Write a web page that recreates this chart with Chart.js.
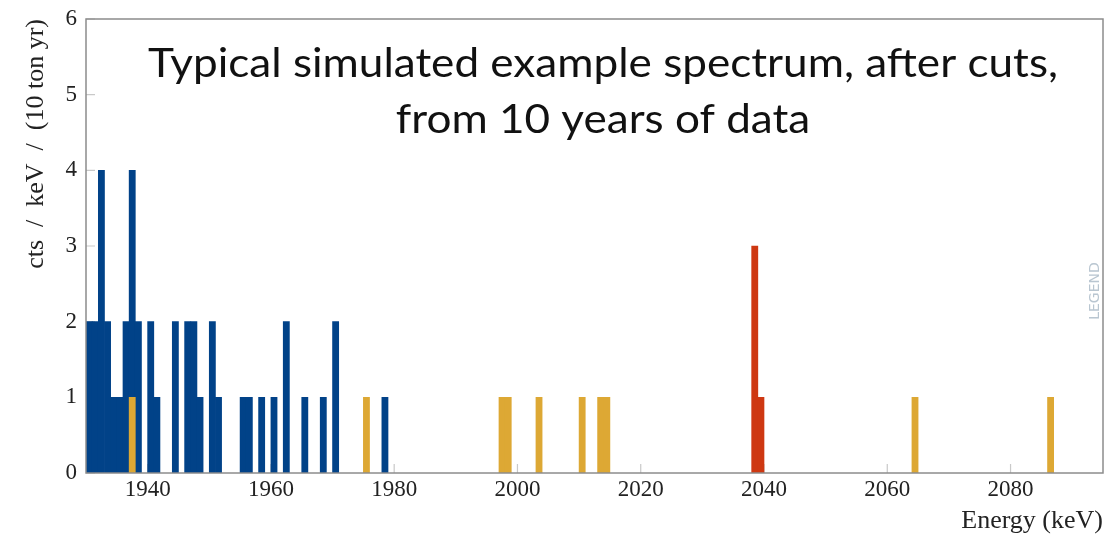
<!DOCTYPE html>
<html>
<head>
<meta charset="utf-8">
<script src="https://cdn.jsdelivr.net/npm/chart.js@4.4.1/dist/chart.umd.min.js"></script>
<style>
  html, body { margin: 0; background: #fff; }
  #wrap { width: 1120px; height: 538px; }
</style>
</head>
<body>
<div id="wrap"><canvas id="spectrum"></canvas></div>
<script>
// 1 keV bins, value = lower edge of the bin
const blueBins = [1930, 1931, 1932, 1933, 1934, 1935, 1936, 1937, 1938, 1940, 1941, 1944, 1946,
  1947, 1948, 1950, 1951, 1955, 1956, 1958, 1960, 1962, 1965, 1968, 1970, 1978];
const blueCounts = [2, 2, 4, 2, 1, 1, 2, 4, 2, 2, 1, 2, 2,
  2, 1, 2, 1, 1, 1, 1, 1, 2, 1, 1, 2, 1];
const yellowBins = [1937, 1975, 1997, 1998, 2003, 2010, 2013, 2014, 2064, 2086];
const yellowCounts = [1, 1, 1, 1, 1, 1, 1, 1, 1, 1];
const redBins = [2038, 2039];
const redCounts = [3, 1];

const xTickValues = [1940, 1960, 1980, 2000, 2020, 2040, 2060, 2080];
const yTickValues = [0, 1, 2, 3, 4, 5, 6];
const titleLines = ['Typical simulated example spectrum, after cuts,', 'from 10 years of data'];

const BLUE = '#014288';
const YELLOW = '#DDA834';
const RED = '#CE3812';

const toPoints = (bins, counts) => bins.map((e, i) => ({ x: e + 0.5, y: counts[i] }));

// inward tick marks (under the bars) and the box frame (over them)
const framePlugin = {
  id: 'frame',
  beforeDatasetsDraw(chart) {
    const { ctx, chartArea: a, scales: { x, y } } = chart;
    ctx.save();
    ctx.strokeStyle = '#c9c9c9';
    ctx.lineWidth = 1.2;
    ctx.beginPath();
    yTickValues.forEach((v) => {
      const py = y.getPixelForValue(v);
      ctx.moveTo(a.left, py); ctx.lineTo(a.left + 9, py);
    });
    xTickValues.forEach((v) => {
      const px = x.getPixelForValue(v);
      ctx.moveTo(px, a.bottom); ctx.lineTo(px, a.bottom - 9);
    });
    ctx.stroke();
    ctx.restore();
  },
  afterDatasetsDraw(chart) {
    const { ctx, chartArea: a } = chart;
    ctx.save();
    ctx.strokeStyle = '#8c8c8c';
    ctx.lineWidth = 1.5;
    ctx.strokeRect(a.left, a.top, a.right - a.left, a.bottom - a.top);
    ctx.restore();
  },
  afterDraw(chart) {
    const { ctx } = chart;
    ctx.save();
    // overlaid slide caption: Calibri-like height, stretched to the original width
    ctx.font = '41px Lato';
    const sx = 910 / ctx.measureText(titleLines[0]).width;
    ctx.fillStyle = '#111';
    ctx.textAlign = 'center';
    ctx.textBaseline = 'alphabetic';
    ctx.save();
    ctx.translate(603, 0);
    ctx.scale(sx, 1);
    ctx.fillText(titleLines[0], 0, 77);
    ctx.fillText(titleLines[1], 0, 133);
    ctx.restore();
    // faint watermark on the right edge
    ctx.translate(1095, 291);
    ctx.rotate(-Math.PI / 2);
    ctx.font = '14px "DejaVu Sans"';
    ctx.fillStyle = '#b9c6d1';
    ctx.textBaseline = 'middle';
    ctx.fillText('LEGEND', 0, 0, 58);
    ctx.restore();
  },
};

Chart.defaults.font.family = '"Liberation Serif", serif';
Chart.defaults.color = '#222';

new Chart(document.getElementById('spectrum'), {
  type: 'bar',
  data: {
    datasets: [
      { label: 'yellow', data: toPoints(yellowBins, yellowCounts), backgroundColor: YELLOW, order: 0 },
      { label: 'red', data: toPoints(redBins, redCounts), backgroundColor: RED, order: 1 },
      { label: 'blue', data: toPoints(blueBins, blueCounts), backgroundColor: BLUE, order: 2 },
    ],
  },
  options: {
    responsive: true,
    maintainAspectRatio: false,
    animation: false,
    devicePixelRatio: 1,
    grouped: false,
    barPercentage: 1,
    categoryPercentage: 1,
    layout: { padding: { top: 19, right: 17, left: 0, bottom: 0 } },
    plugins: { legend: { display: false }, tooltip: { enabled: false } },
    scales: {
      x: {
        type: 'linear',
        min: 1930,
        max: 2095,
        offset: false,
        grid: { display: false, drawTicks: false },
        border: { display: false },
        afterBuildTicks: (s) => { s.ticks = xTickValues.map((v) => ({ value: v })); },
        afterFit: (s) => { s.height = 65; s.paddingLeft = 0; s.paddingRight = 0; },
        ticks: { font: { size: 23 }, padding: 3, maxRotation: 0, autoSkip: false, callback: (v) => String(v) },
        title: { display: true, text: 'Energy (keV)', align: 'end', font: { size: 26 }, padding: { top: 0, bottom: 1 } },
      },
      y: {
        min: 0,
        max: 6,
        grid: { display: false, drawTicks: false },
        border: { display: false },
        afterBuildTicks: (s) => { s.ticks = yTickValues.map((v) => ({ value: v })); },
        afterFit: (s) => { s.width = 86; s.paddingTop = 0; s.paddingBottom = 0; },
        ticks: { font: { size: 23 }, padding: 9, callback: (v) => String(v) },
        title: { display: true, text: 'cts  /  keV  /  (10 ton yr)', align: 'end', font: { size: 26 }, padding: { top: 21, bottom: 0 } },
      },
    },
  },
  plugins: [framePlugin],
});
</script>
</body>
</html>
